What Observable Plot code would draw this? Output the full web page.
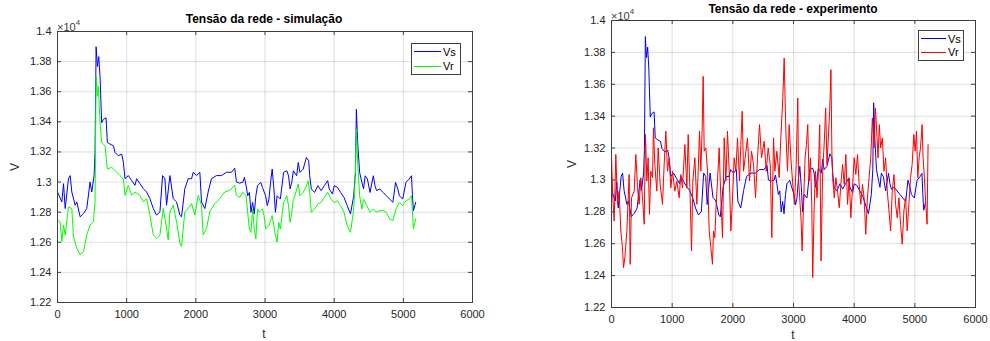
<!DOCTYPE html>
<html>
<head>
<meta charset="utf-8">
<script src="https://cdn.jsdelivr.net/npm/d3@7"></script>
<script src="https://cdn.jsdelivr.net/npm/@observablehq/plot@0.6"></script>
<style>
html,body{margin:0;padding:0;background:#fff;}
#root{position:relative;width:990px;height:341px;overflow:hidden;font-family:"Liberation Sans",Arial,Helvetica,sans-serif;}
#root svg{position:absolute;top:0;}
.title{position:absolute;font-weight:bold;font-size:12px;line-height:14px;color:#000;white-space:nowrap;transform:translateX(-50%);}
.exp{position:absolute;font-size:11px;line-height:11px;color:#404040;white-space:nowrap;}
.exp sup{font-size:8px;position:relative;top:-1px;}
.lab{position:absolute;font-size:12px;line-height:12px;color:#262626;transform:translate(-50%,-50%);}
.lab.rot{transform:translate(-50%,-50%) rotate(-90deg);}
.legend{position:absolute;border:1px solid #404040;background:#fff;font-size:11px;box-sizing:border-box;}
.legend .ln{position:absolute;height:1px;}
.legend .tx{position:absolute;line-height:12px;color:#000;}
</style>
</head>
<body>
<div id="root"></div>
<script>
// ---- data (t in samples, V in volts) ----
const xTicks = [0, 1000, 2000, 3000, 4000, 5000, 6000];
const xTickLabels = ["0", "1000", "2000", "3000", "4000", "5000", "6000"];
const yTicks = [12200, 12400, 12600, 12800, 13000, 13200, 13400, 13600, 13800, 14000];
const yTickLabels = ["1.22", "1.24", "1.26", "1.28", "1.3", "1.32", "1.34", "1.36", "1.38", "1.4"];

const vsT = [0,63,87,111,159,183,207,255,279,327,375,423,471,495,529,543,558,577,596,615,639,663,702,721,760,808,832,880,928,952,976,1024,1072,1120,1144,1192,1240,1288,1336,1385,1433,1481,1519,1553,1577,1625,1673,1721,1769,1793,1841,1890,1938,1962,2010,2058,2082,2130,2178,2226,2298,2370,2442,2515,2563,2587,
  2632,2679,2703,2726,2750,2774,2797,2821,2844,2868,2892,2939,2962,3009,3033,3057,3080,3104,3127,3151,3175,3222,3269,3316,3340,3363,3387,3410,3458,3481,3505,3552,3599,3632,3646,3670,3717,3764,3811,3858,3906,3929,3976,4000,4047,4094,4142,4189,4236,4283,4307,4321,4340,4368,4401,4425,4448,4481,4519,4542,4566,4590,4613,4660,4708,4755,4802,4849,4887,4920,4943,4991,5038,5085,5118,5132,5146,5179];
const vsV = [12934,12868,12989,12824,13022,13043,12934,12846,12868,12769,12791,12824,13000,12934,13043,13197,13899,13767,13833,13701,13394,13416,13427,13263,13252,13241,13197,13175,13186,13131,13022,13043,13010,12978,13022,12989,12956,12934,12890,12824,12780,12802,13043,13022,12846,13043,12890,12868,12780,12769,12956,13022,13022,13065,13043,13065,12868,12824,12934,13022,13043,13043,13065,13065,13092,13000,
  12993,12998,13031,12976,12909,12931,12799,12865,12788,12909,12976,12998,12965,12909,12843,12887,12998,13086,12965,12799,12909,12887,13064,13075,13042,12954,12998,13075,13042,13130,13064,13086,13164,13141,13042,12954,12931,12976,12943,12976,13009,12954,12920,12976,12965,12931,12898,12843,12788,12909,13064,13484,13263,13064,12998,12954,13042,13020,12931,12987,13042,12976,12943,12954,12931,12909,12887,12865,12998,12954,12909,12887,12998,13020,13042,12909,12810,12865];

const vrSimT = [0,38,63,87,111,159,207,231,279,327,375,423,471,519,543,558,577,591,615,639,687,721,784,856,904,952,976,1024,1072,1120,1192,1240,1288,1336,1385,1433,1481,1529,1577,1601,1625,1673,1721,1769,1793,1841,1890,1938,1986,2034,2082,2106,2154,2202,2274,2346,2418,2491,2563,2587,
  2632,2679,2726,2774,2797,2821,2844,2868,2892,2915,2962,2986,3009,3057,3104,3151,3175,3198,3222,3269,3316,3340,3363,3387,3410,3434,3458,3481,3505,3552,3599,3623,3646,3670,3717,3764,3811,3858,3906,3953,4000,4047,4094,4142,4189,4236,4283,4307,4321,4340,4368,4401,4425,4472,4519,4566,4613,4660,4708,4755,4802,4849,4896,4943,4991,5038,5085,5118,5146,5179];
const vrSimV = [12747,12736,12605,12714,12649,12835,12824,12638,12561,12517,12539,12649,12714,12736,12868,13701,13570,13636,13394,13263,13241,13087,13098,13065,13043,13022,12912,12978,12912,12934,12912,12868,12890,12780,12649,12627,12649,12824,12693,12616,12802,12846,12736,12594,12572,12802,12824,12857,12780,12912,12846,12649,12693,12802,12857,12890,12934,12945,12978,12912,
  12898,12931,12909,12688,12666,12821,12688,12622,12821,12799,12821,12777,12688,12710,12777,12644,12600,12733,12688,12865,12909,12843,12733,12799,12887,12909,12954,12987,12909,12931,12976,13009,12931,12799,12821,12854,12865,12898,12931,12887,12865,12876,12843,12799,12710,12666,12821,13064,13351,13130,12909,12821,12887,12843,12799,12821,12799,12810,12810,12799,12755,12744,12821,12865,12843,12876,12887,12909,12688,12755];

const vrExpT = [0,22,44,71,99,126,154,181,198,220,253,291,308,330,374,401,429,456,484,511,539,560,582,604,626,648,676,692,714,747,769,802,841,868,896,923,951,978,1006,1044,1077,1115,1143,1170,1209,1242,1264,1297,1319,1341,1374,1407,1429,1451,1473,1495,1511,1528,1555,1583,1610,1638,1665,1681,1703,1725,1747,1775,1802,1830,1857,1885,1912,1940,1967,1995,2022,2050,2077,2110,2132,2154,2176,2203,2242,2275,2308,2341,2374,2407,2440,2473,2517,2550,2583,2616,2643,2671,2693,2726,2764,2791,2824,2846,2874,2901,2929,2956,2984,
  3016,3044,3071,3082,3109,3126,3142,3169,3191,3213,3235,3257,3279,3301,3317,3339,3361,3388,3410,3432,3454,3481,3508,3530,3552,3574,3596,3617,3634,3650,3672,3699,3727,3754,3781,3809,3836,3863,3891,3918,3945,3973,4000,4027,4055,4082,4109,4137,4164,4191,4218,4246,4273,4300,4328,4350,4371,4393,4415,4437,4464,4492,4519,4546,4574,4601,4628,4656,4683,4710,4738,4765,4792,4820,4847,4874,4902,4929,4956,4983,5005,5027,5049,5071,5093,5120,5136,5158,5180,5202,5218];
const vrExpV = [13139,12888,12742,13160,12847,12930,12680,12575,12450,12513,12680,13034,12471,12888,12930,13160,12951,12847,13014,12888,12722,13285,12993,13139,12784,13055,13014,13327,13097,12930,13201,12972,12847,13097,13306,13055,13139,12951,13055,12930,12993,12888,13034,12951,13222,12951,13285,12888,12555,12993,13139,12847,13055,13306,13055,13327,13650,13180,13201,13055,12680,12575,12471,12680,12638,12847,12993,13201,12888,12638,13264,12993,13306,13055,12680,12888,13139,13055,13264,12993,13222,13431,13055,13139,13264,12993,13180,13097,12888,13139,13347,13139,13243,13055,13201,13097,12638,13264,13055,13180,13014,13264,13514,13765,13306,13055,13347,13139,12993,
  12847,13097,13514,13014,12847,12742,12555,12888,13139,13222,13347,12993,13139,12847,12388,12805,13055,12888,13055,13347,12492,13055,13243,13452,13097,13264,13431,13692,13139,12993,12888,13014,12930,12826,12972,13097,12972,13160,12847,13014,12763,12951,13139,13034,13160,12972,12847,12972,12888,12659,12888,13014,13139,13389,13201,13452,13306,13139,13347,13201,13264,13055,13139,12930,12805,12680,12930,13034,12847,12763,12888,12722,12597,12805,12888,12680,12847,13014,13097,13285,13180,13306,13014,13139,13201,13347,13139,13014,12847,12722,13222];

const zip = (ts, vs) => ts.slice(0, Math.min(ts.length, vs.length)).map((t, i) => ({t, v: vs[i]}));
const vsData = zip(vsT, vsV);
const vrSimData = zip(vrSimT, vrSimV);
const vrExpData = zip(vrExpT, vrExpV);

const fmtY = d => yTickLabels[yTicks.indexOf(d)];
const fmtX = d => xTickLabels[xTicks.indexOf(d)];

function panel({width, height, ml, mr, mt, mb, series}) {
  const pw = width - ml - mr, ph = height - mt - mb;
  const tick = 4;
  return Plot.plot({
    width, height,
    marginLeft: ml, marginRight: mr, marginTop: mt, marginBottom: mb,
    style: {fontFamily: '"Liberation Sans", Arial, Helvetica, sans-serif', fontSize: "11px", color: "#262626", background: "transparent", overflow: "visible"},
    x: {domain: [0, 6000]},
    y: {domain: [12200, 14000]},
    marks: [
      Plot.gridX(xTicks, {stroke: "#000", strokeOpacity: 0.13}),
      Plot.gridY(yTicks, {stroke: "#000", strokeOpacity: 0.13}),
      ...series.map(s => Plot.line(s.data, {x: "t", y: "v", stroke: s.color, strokeWidth: 1})),
      Plot.tickY(yTicks, {y: d => d, stroke: "#404040", insetRight: pw - tick}),
      Plot.tickY(yTicks, {y: d => d, stroke: "#404040", insetLeft: pw - tick}),
      Plot.tickX(xTicks, {x: d => d, stroke: "#404040", insetTop: ph - tick}),
      Plot.tickX(xTicks, {x: d => d, stroke: "#404040", insetBottom: ph - tick}),
      Plot.frame({stroke: "#404040", strokeWidth: 1}),
      Plot.axisY({ticks: yTicks, tickSize: 0, tickPadding: 6, tickFormat: fmtY, label: null}),
      Plot.axisX({ticks: xTicks, tickSize: 0, tickPadding: 8, tickFormat: fmtX, label: null})
    ]
  });
}

const root = document.getElementById("root");

const left = panel({width: 495, height: 341, ml: 57, mr: 23, mt: 31, mb: 39,
  series: [{data: vsData, color: "#0000ff"}, {data: vrSimData, color: "#00ff00"}]});
left.style.left = "0px";
root.appendChild(left);

const right = panel({width: 440, height: 341, ml: 61, mr: 15, mt: 20, mb: 34,
  series: [{data: vsData, color: "#0000ff"}, {data: vrExpData, color: "#ff0000"}]});
right.style.left = "550px";
root.appendChild(right);

function addDiv(cls, html, style) {
  const d = document.createElement("div");
  d.className = cls;
  d.innerHTML = html;
  Object.assign(d.style, style);
  root.appendChild(d);
  return d;
}

addDiv("title", "Tensão da rede - simulação", {left: "264px", top: "12px"});
addDiv("title", "Tensão da rede - experimento", {left: "793px", top: "2px"});
addDiv("exp", "×10<sup>4</sup>", {left: "57px", top: "18px"});
addDiv("exp", "×10<sup>4</sup>", {left: "611px", top: "7px"});
addDiv("lab rot", "V", {left: "15px", top: "167px"});
addDiv("lab rot", "V", {left: "572px", top: "164px"});
addDiv("lab", "t", {left: "264px", top: "334px"});
addDiv("lab", "t", {left: "793px", top: "335px"});

function legend(x, y, w, h, rowTop, rowH, lineW, items) {
  const box = addDiv("legend", "", {left: x + "px", top: y + "px", width: w + "px", height: h + "px"});
  items.forEach((it, i) => {
    const cy = rowTop + rowH * (i + 0.5) - 1;
    const ln = document.createElement("div");
    ln.className = "ln";
    Object.assign(ln.style, {left: "2px", top: (cy - 0.5) + "px", width: lineW + "px", background: it.color});
    box.appendChild(ln);
    const tx = document.createElement("div");
    tx.className = "tx";
    tx.textContent = it.label;
    Object.assign(tx.style, {left: (lineW + 4) + "px", top: (cy - 6) + "px"});
    box.appendChild(tx);
  });
}
legend(411, 43, 50, 32, 1.5, 14.5, 27, [{label: "Vs", color: "#0000ff"}, {label: "Vr", color: "#00ff00"}]);
legend(918, 30, 46, 31, 2, 13.4, 25, [{label: "Vs", color: "#0000ff"}, {label: "Vr", color: "#ff0000"}]);
</script>
</body>
</html>
